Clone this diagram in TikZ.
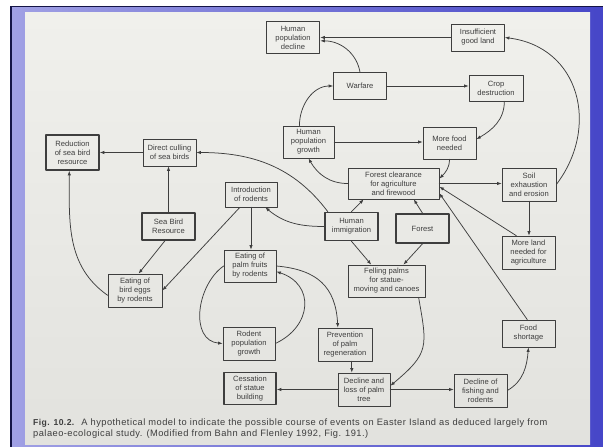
\documentclass[tikz,border=0pt]{standalone}
\usepackage{fontspec}
\setmainfont{Liberation Sans}
\usetikzlibrary{arrows.meta}
\definecolor{ink}{RGB}{62,62,62}
\definecolor{navy}{RGB}{20,20,70}
\definecolor{slidelight}{RGB}{160,160,228}
\definecolor{slideblue}{RGB}{70,70,200}
\definecolor{pagetop}{RGB}{240,240,236}
\definecolor{pagebottom}{RGB}{226,226,222}
\begin{document}
\begin{tikzpicture}[x=1pt, y=1pt, line join=round, line cap=round, >={Latex[length=4.5pt,width=3.4pt]},
  box/.style={draw=ink, line width=0.7pt, text=ink, align=center, minimum width=53pt,
    minimum height=27pt, inner sep=1.5pt, font=\fontsize{7.6}{9}\selectfont},
  boldbox/.style={box, line width=1.6pt},
  tall/.style={minimum height=32pt},
  link/.style={->, draw=ink, line width=0.75pt}]
% Vẽ nền
\useasboundingbox (0,0) rectangle (603,447);
\fill[white] (0,0) rectangle (603,447);
\fill[navy] (10,0) rectangle (603,441);
\shade[left color=slidelight, right color=slideblue] (12,0) rectangle (603,439);
\shade[top color=pagetop, bottom color=pagebottom] (25,2) rectangle (590,434);
% Các ô
\node[boldbox, tall] (hpd) at (293,409.5) {Human\\population\\decline};
\node[box] (igl) at (478,409.5) {Insufficient\\good land};
\node[box] (war) at (360,361) {Warfare};
\node[box, minimum width=54pt, minimum height=26pt] (crop) at (496,359) {Crop\\destruction};
\node[box, tall, minimum width=51pt] (hpg) at (308.5,305) {Human\\population\\growth};
\node[box, tall] (mfn) at (449.5,304) {More food\\needed};
\node[boldbox, minimum height=35pt] (red) at (72.5,294.5) {Reduction\\of sea bird\\resource};
\node[box] (dcs) at (169.5,294.5) {Direct culling\\of sea birds};
\node[box, minimum width=91pt, minimum height=31pt] (fc) at (393.5,263.5) {Forest clearance\\for agriculture\\and firewood};
\node[box, minimum width=54pt, minimum height=33pt] (soil) at (529,262.5) {Soil\\exhaustion\\and erosion};
\node[box, minimum width=52pt, minimum height=25pt] (intro) at (251,252.5) {Introduction\\of rodents};
\node[boldbox] (sbr) at (168.5,220.5) {Sea Bird\\Resource};
\node[boldbox, minimum height=28pt] (hi) at (351.5,220.5) {Human\\immigration};
\node[boldbox, minimum height=29pt] (forest) at (422.5,218.5) {Forest};
\node[box, minimum height=33pt] (mland) at (528.5,194.5) {More land\\needed for\\agriculture};
\node[box, tall, minimum width=52pt] (epf) at (250,181) {Eating of\\palm fruits\\by rodents};
\node[box, tall, minimum width=77pt] (fell) at (386.5,166) {Felling palms\\for statue-\\moving and canoes};
\node[box, minimum width=54pt, minimum height=33pt] (egg) at (135,156.5) {Eating of\\bird eggs\\by rodents};
\node[box] (food) at (528.5,113.5) {Food\\shortage};
\node[box, minimum width=52pt, minimum height=33pt] (rpg) at (249,103.5) {Rodent\\population\\growth};
\node[box, minimum width=54pt, minimum height=33pt] (prev) at (345,102.5) {Prevention\\of palm\\regeneration};
\node[boldbox, tall, minimum width=52pt] (cess) at (250,58.5) {Cessation\\of statue\\building};
\node[box, minimum width=52pt, minimum height=33pt] (dlp) at (364,57.5) {Decline and\\loss of palm\\tree};
\node[box, minimum height=33pt] (dfr) at (480.5,56.5) {Decline of\\fishing and\\rodents};
% Các mũi tên
\draw[link] (igl.west) -- (igl.west -| hpd.east);
\draw[link] (war.north) to[out=100, in=0] (hpd.-7);
\draw[link] (war.east) -- (war.east -| crop.west);
\draw[link] (hpg.119) to[out=90, in=180] (war.west);
\draw[link] (crop.-58) to[out=-90, in=30] (mfn.8);
\draw[link] (hpg.east) -- (hpg.east -| mfn.west);
\draw[link] (soil.east) .. controls (600,320) and (580,400) .. (igl.east);
\draw[link] (mfn.south) to[out=-90, in=45] (fc.6);
\draw[link] (fc.west) to[out=180, in=-60] (hpg.south);
\draw[link] (fc.east) -- (fc.east -| soil.west);
\draw[link] (soil.south) -- (soil.south |- mland.north);
\draw[link] (mland.126) -- (fc.-4);
\draw[link] (food.95) -- (fc.-12);
\draw[link] (hi.north) -- (fc.-152);
\draw[link] (forest.north) -- (fc.-38);
\draw[link] (hi.south) -- (fell.133);
\draw[link] (forest.south) -- (fell.44);
\draw[link] (hi.148) to[out=127, in=0] (dcs.east);
\draw[link] (hi.west) to[out=180, in=-40] (intro.-42);
\draw[link] (dcs.west) -- (dcs.west -| red.east);
\draw[link] (sbr.north) -- (sbr.north |- dcs.south);
\draw[link] (sbr.-104) -- (egg.78);
\draw[link] (intro.-131) -- (egg.east);
\draw[link] (egg.190) to[out=145, in=-90] (red.-100);
\draw[link] (intro.south) -- (intro.south |- epf.north);
\draw[link] (epf.west) to[out=215, in=175, looseness=1.1] (rpg.west);
\draw[link] (rpg.east) to[out=25, in=-18, looseness=1.45] (epf.-12);
\draw[link] (epf.east) to[out=-5, in=93, looseness=1.2] (prev.113);
\draw[link] (prev.-68) -- (prev.-68 |- dlp.north);
\draw[link] (fell.-27) to[out=-80, in=40, looseness=1.4] (dlp.8);
\draw[link] (dlp.west) -- (dlp.west -| cess.east);
\draw[link] (dlp.east) -- (dlp.east -| dfr.west);
\draw[link] (dfr.east) to[out=30, in=-95] (food.south);
% Chú thích
\node[anchor=west, align=left, text=ink, inner sep=0pt,
  font=\fontsize{9.3}{11}\selectfont\addfontfeatures{LetterSpace=5}] (caption) at (33,18.5)
  {{\fontsize{8.6}{11}\selectfont\bfseries Fig. 10.2.}\hspace{7pt}A hypothetical model to indicate the possible course of events on Easter Island as deduced largely from\\
   palaeo-ecological study. (Modified from Bahn and Flenley 1992, Fig. 191.)};
\end{tikzpicture}
\end{document}
